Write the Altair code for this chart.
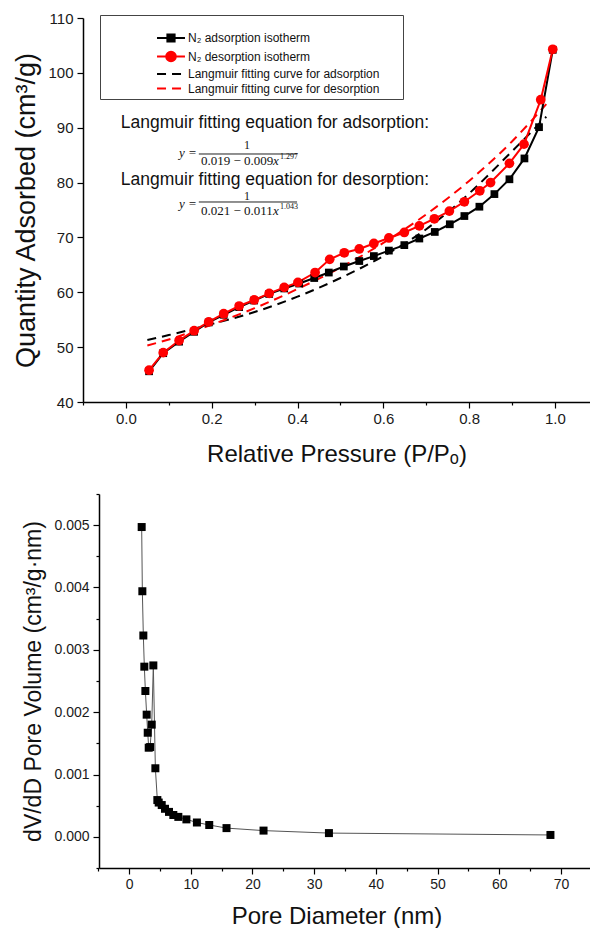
import altair as alt
import pandas as pd

SANS = "Liberation Sans"
SERIF = "Liberation Serif"

# ---------------- Top chart data (N2 isotherm) ----------------
ads_p = [0.054, 0.087, 0.124, 0.159, 0.193, 0.228, 0.264, 0.299, 0.334, 0.369,
         0.404, 0.439, 0.473, 0.508, 0.544, 0.578, 0.613, 0.649, 0.684, 0.720,
         0.755, 0.789, 0.824, 0.859, 0.894, 0.929, 0.963, 0.995]
ads_q = [45.6, 48.9, 51.0, 52.8, 54.5, 55.9, 57.3, 58.5, 59.7, 60.7,
         61.6, 62.6, 63.6, 64.7, 65.7, 66.6, 67.6, 68.6, 69.8, 71.0,
         72.4, 73.9, 75.6, 77.9, 80.6, 84.4, 90.1, 104.2]
des_p = [0.054, 0.087, 0.124, 0.159, 0.193, 0.228, 0.264, 0.299, 0.334, 0.369,
         0.401, 0.441, 0.475, 0.509, 0.544, 0.578, 0.613, 0.649, 0.684, 0.719,
         0.754, 0.789, 0.825, 0.850, 0.894, 0.928, 0.967, 0.995]
des_q = [45.8, 49.0, 51.2, 53.0, 54.6, 56.1, 57.5, 58.6, 59.8, 60.9,
         61.8, 63.6, 66.0, 67.2, 67.9, 68.9, 69.9, 70.9, 72.1, 73.4,
         74.8, 76.5, 78.5, 80.0, 83.5, 87.0, 95.1, 104.3]
fit_p = [0.05, 0.1, 0.2, 0.3, 0.4, 0.5, 0.6, 0.7, 0.8, 0.9, 0.98]
fit_ads_q = [51.3, 52.2, 54.2, 56.4, 59.2, 62.6, 66.6, 71.5, 78.0, 85.7, 92.0]
fit_des_q = [50.3, 51.4, 54.1, 57.1, 60.6, 64.5, 69.0, 74.2, 80.3, 87.5, 94.3]

series_names = ["N\u2082 adsorption isotherm", "N\u2082 desorption isotherm",
                "Langmuir fitting curve for adsorption",
                "Langmuir fitting curve for desorption"]
series_colors = ["#000000", "#ff0000", "#000000", "#ff0000"]

# ---------------- Bottom chart data (pore size distribution) ----------------
pore_d = [2.05, 2.16, 2.32, 2.48, 2.65, 2.86, 3.03, 3.19, 3.42, 3.68,
          3.94, 4.27, 4.59, 4.81, 5.30, 5.83, 6.48, 7.18, 7.99, 9.30,
          11.0, 13.0, 15.8, 21.8, 32.4, 68.3]
pore_v = [0.00497, 0.00394, 0.00323, 0.00273, 0.00234, 0.00196, 0.00167, 0.00143, 0.00144, 0.00180,
          0.00275, 0.00110, 0.00059, 0.00055, 0.00051, 0.00045, 0.00040, 0.00035, 0.00032, 0.00028,
          0.00023, 0.00019, 0.00014, 0.00010, 0.00006, 0.00003]

ads_df = pd.DataFrame({"p": ads_p, "q": ads_q, "series": series_names[0]})
des_df = pd.DataFrame({"p": des_p, "q": des_q, "series": series_names[1]})
fa_df = pd.DataFrame({"p": fit_p, "q": fit_ads_q, "series": series_names[2]})
fd_df = pd.DataFrame({"p": fit_p, "q": fit_des_q, "series": series_names[3]})
legend_df = pd.concat([ads_df, des_df, fa_df, fd_df], ignore_index=True)
pore_df = pd.DataFrame({"d": pore_d, "v": pore_v})
one = pd.DataFrame({"_": [0]})

# ---------------- Top chart ----------------
W = 507
xs_top = alt.Scale(domain=[-0.1, -0.1 + W / 429.0], nice=False, zero=False)
ys_top = alt.Scale(domain=[40, 110], nice=False, zero=False)

x_top_vals = [round(-0.1 + 0.1 * i, 1) for i in range(12)]
y_top_vals = [40 + 5 * i for i in range(15)]

x_axis_top = alt.Axis(
    values=x_top_vals,
    labelExpr="abs(round(datum.value*10)) % 2 == 0 && datum.value >= 0 ? format(datum.value, '.1f') : ''",
    tickSize={"condition": {"test": "abs(round(datum.value*10)) % 2 == 0", "value": 6}, "value": 3},
    labelFontSize=15, labelPadding=3, titleFontSize=24, titlePadding=16,
    title="Relative Pressure (P/P\u2092)")
y_axis_top = alt.Axis(
    values=y_top_vals,
    labelExpr="datum.value % 10 == 0 ? format(datum.value, 'd') : ''",
    tickSize={"condition": {"test": "datum.value % 10 == 0", "value": 6}, "value": 3},
    labelFontSize=15, labelPadding=4, titleFontSize=27, titlePadding=7,
    title="Quantity Adsorbed (cm\u00b3/g)")

X = alt.X("p:Q", scale=xs_top, axis=x_axis_top)
Y = alt.Y("q:Q", scale=ys_top, axis=y_axis_top)

fit_ads = alt.Chart(fa_df).mark_line(color="#000000", strokeWidth=2, strokeDash=[9, 6],
                                     interpolate="monotone").encode(x=X, y=Y)
fit_des = alt.Chart(fd_df).mark_line(color="#ff0000", strokeWidth=2, strokeDash=[9, 6],
                                     interpolate="monotone").encode(x=X, y=Y)
line_ads = alt.Chart(ads_df).mark_line(color="#000000", strokeWidth=2).encode(x=X, y=Y)
line_des = alt.Chart(des_df).mark_line(color="#ff0000", strokeWidth=2).encode(x=X, y=Y)
pts_ads = alt.Chart(ads_df).mark_point(shape="square", filled=True, color="#000000",
                                       size=60, opacity=1).encode(x=X, y=Y)
pts_des = alt.Chart(des_df).mark_point(shape="circle", filled=True, color="#ff0000",
                                       size=95, opacity=1).encode(x=X, y=Y)

legend_shapes = [
    "M-2.33,0H2.33M-0.6,-0.6H0.6V0.6H-0.6Z",
    "M-2.33,0H2.33M0.8,0A0.8,0.8,0,1,1,-0.8,0A0.8,0.8,0,1,1,0.8,0Z",
    "M-2.33,0H-0.83M0.17,0H1.67",
    "M-2.33,0H-0.83M0.17,0H1.67",
]
# invisible title: gives the legend box its top margin and its full width
leg = alt.Legend(orient="none", legendX=17, legendY=-3, title="x" * 53, titleFontSize=10,
                 titleFont=SANS, titleColor="rgba(0,0,0,0)", titleLimit=600,
                 titlePadding=2, padding=4, strokeColor="#444444", symbolSize=144,
                 symbolStrokeWidth=2, symbolOffset=60, labelOffset=10, labelFontSize=12,
                 labelFont=SANS, labelColor="#111111", labelLimit=400, rowPadding=1.5,
                 symbolOpacity=1)
legend_layer = alt.Chart(legend_df).transform_filter("false").mark_point(
    filled=True, opacity=1).encode(
    x=X, y=Y,
    fill=alt.Fill("series:N", scale=alt.Scale(domain=series_names, range=series_colors), legend=leg),
    stroke=alt.Stroke("series:N", scale=alt.Scale(domain=series_names, range=series_colors), legend=leg),
    shape=alt.Shape("series:N", scale=alt.Scale(domain=series_names, range=legend_shapes), legend=leg),
)


def label(text, x, y, size, font=SANS, align="left", style="normal", color="#111111"):
    return alt.Chart(one).mark_text(text=text, align=align, baseline="middle", fontSize=size,
                                    font=font, fontStyle=style, color=color).encode(
        x=alt.datum(x), y=alt.datum(y))


def bar(x1, x2, y):
    return alt.Chart(one).mark_rule(color="#222222", strokeWidth=1).encode(
        x=alt.datum(x1), x2=alt.datum(x2), y=alt.datum(y))


annotations = [
    label("Langmuir fitting equation for adsorption:", -0.012, 90.86, 17.5),
    label("y =", 0.1655, 85.39, 13, SERIF, "right", "italic"),
    label("1", 0.282, 86.9, 12, SERIF, "center"),
    bar(0.170, 0.399, 85.21),
    label("0.019 \u2212 0.009", 0.175, 83.93, 13, SERIF),
    label("x", 0.343, 83.93, 13, SERIF, "left", "italic"),
    label("1.297", 0.359, 84.6, 8, SERIF),
    label("Langmuir fitting equation for desorption:", -0.012, 80.47, 17.5),
    label("y =", 0.1655, 76.09, 13, SERIF, "right", "italic"),
    label("1", 0.282, 77.5, 12, SERIF, "center"),
    bar(0.170, 0.399, 76.46),
    label("0.021 \u2212 0.011", 0.175, 74.82, 13, SERIF),
    label("x", 0.343, 74.82, 13, SERIF, "left", "italic"),
    label("1.043", 0.359, 75.5, 8, SERIF),
]

top = alt.layer(fit_ads, fit_des, line_ads, line_des, pts_ads, pts_des, legend_layer,
                *annotations).properties(width=W, height=384)

# ---------------- Bottom chart ----------------
xs_bot = alt.Scale(domain=[-7.46, -7.46 + W / 6.17], nice=False, zero=False)
ys_bot = alt.Scale(domain=[-0.0005, 0.0055], nice=False, zero=False)
x_bot_vals = [-5 + 5 * i for i in range(16)]
y_bot_vals = [round(-0.0005 + 0.0005 * i, 4) for i in range(13)]

x_axis_bot = alt.Axis(
    values=x_bot_vals,
    labelExpr="datum.value % 10 == 0 && datum.value >= 0 ? format(datum.value, 'd') : ''",
    tickSize={"condition": {"test": "datum.value % 10 == 0", "value": 6}, "value": 3},
    labelFontSize=14, labelPadding=3, titleFontSize=24, titlePadding=13,
    domainDash=[700, 16], domainDashOffset=700,
    title="Pore Diameter (nm)")
y_axis_bot = alt.Axis(
    values=y_bot_vals, offset=-16,
    labelExpr="abs(round(datum.value*2000)) % 2 == 0 && datum.value >= 0 ? format(datum.value, '.3f') : ''",
    tickSize={"condition": {"test": "abs(round(datum.value*2000)) % 2 == 0", "value": 6}, "value": 3},
    labelFontSize=14, labelPadding=4, titleFontSize=23, titlePadding=8,
    title="dV/dD Pore Volume (cm\u00b3/g\u00b7nm)")

XB = alt.X("d:Q", scale=xs_bot, axis=x_axis_bot)
YB = alt.Y("v:Q", scale=ys_bot, axis=y_axis_bot)

bot_line = alt.Chart(pore_df).mark_line(color="#555555", strokeWidth=1).encode(x=XB, y=YB)
bot_pts = alt.Chart(pore_df).mark_point(shape="square", filled=True, color="#000000",
                                        size=64, opacity=1).encode(x=XB, y=YB)
bottom = alt.layer(bot_line, bot_pts).properties(width=W, height=374)

chart = alt.vconcat(top, bottom, spacing=27).properties(
    padding={"left": 12, "top": 11, "right": 0, "bottom": 0}
).configure_view(stroke=None).configure_axis(
    grid=False, domainColor="#000000", tickColor="#000000", domainWidth=1.5, tickWidth=1.2,
    labelFont=SANS, titleFont=SANS, labelColor="#1a1a1a", titleColor="#111111",
    titleFontWeight="normal"
)

chart.save("out.html", embed_options={"renderer": "svg", "actions": False})
